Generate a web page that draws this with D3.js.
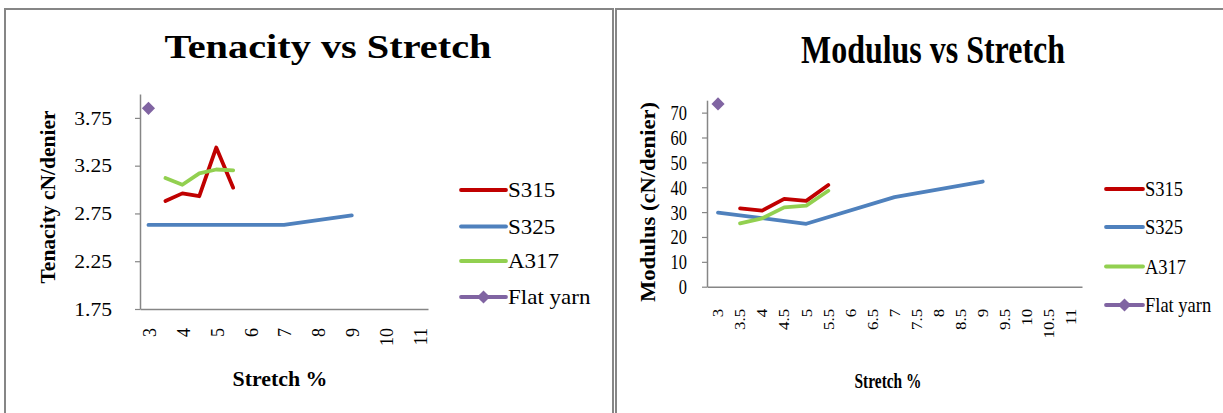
<!DOCTYPE html>
<html>
<head>
<meta charset="utf-8">
<script src="https://cdn.jsdelivr.net/npm/d3@7"></script>
<style>
  html, body { margin: 0; padding: 0; background: #fff; }
  svg text { font-family: "Liberation Serif", "Times New Roman", serif !important; fill: #000; }
</style>
</head>
<body>
<svg id="chart" width="1223" height="413"></svg>
<script>
// Series names and colours
const seriesNames = ["S315", "S325", "A317", "Flat yarn"];
const seriesColors = ["#C00000", "#4F81BD", "#92D050", "#8064A2"];

// Stretch % values at which each series was measured
const stretchS315 = [3.5, 4, 4.5, 5, 5.5];
const stretchS325 = [3, 5, 7, 9];
const stretchA317 = [3.5, 4, 4.5, 5, 5.5];
const stretchFlat = [3];

// Tenacity (cN/denier)
const tenacityS315 = [2.88, 2.96, 2.93, 3.44, 3.02];
const tenacityS325 = [2.63, 2.63, 2.63, 2.73];
const tenacityA317 = [3.12, 3.05, 3.17, 3.21, 3.20];
const tenacityFlat = [3.85];

// Modulus (cN/denier)
const modulusS315 = [31.5, 30.6, 35.3, 34.5, 40.9];
const modulusS325 = [29.8, 25.3, 36.0, 42.3];
const modulusA317 = [25.5, 27.5, 31.9, 32.6, 38.6];
const modulusFlat = [73.5];

// Axis ticks
const tenacityTicks = [1.75, 2.25, 2.75, 3.25, 3.75];
const modulusTicks = [0, 10, 20, 30, 40, 50, 60, 70];
const tenacityStretchTicks = [3, 4, 5, 6, 7, 8, 9, 10, 11];
const modulusStretchTicks = [3, 3.5, 4, 4.5, 5, 5.5, 6, 6.5, 7, 7.5, 8, 8.5, 9, 9.5, 10, 10.5, 11];

const svg = d3.select("#chart");
const AXIS = "#868686";

// Outer frames of the two panels
svg.append("rect").attr("x", 5).attr("y", 9).attr("width", 608).attr("height", 430)
  .attr("fill", "none").attr("stroke", AXIS).attr("stroke-width", 2);
svg.append("rect").attr("x", 616).attr("y", 9).attr("width", 640).attr("height", 430)
  .attr("fill", "none").attr("stroke", AXIS).attr("stroke-width", 2);

function drawPanel(cfg) {
  const g = svg.append("g");
  const x = d3.scaleLinear().domain([2.75, 11.25]).range(cfg.xRange);
  const y = d3.scaleLinear().domain(cfg.yDomain).range(cfg.yRange);
  const sx = cfg.sx;

  // Title
  g.append("text")
    .attr("x", cfg.title.x).attr("y", cfg.title.y)
    .attr("text-anchor", "middle")
    .attr("font-weight", "bold")
    .attr("font-size", cfg.title.size)
    .attr("textLength", cfg.title.len)
    .attr("lengthAdjust", "spacingAndGlyphs")
    .text(cfg.title.text);

  // Y axis
  const yAxis = g.append("g")
    .attr("transform", `translate(${cfg.xRange[0]},0)`)
    .call(d3.axisLeft(y).tickValues(cfg.yTicks).tickSize(5).tickSizeOuter(0)
      .tickFormat(cfg.yFormat));
  yAxis.select(".domain").attr("stroke", AXIS).attr("stroke-width", 1.5);
  yAxis.selectAll(".tick line").attr("stroke", AXIS).attr("stroke-width", 1.2);
  yAxis.selectAll(".tick text")
    .attr("x", 0).attr("dy", "0.35em")
    .attr("transform", `translate(${-cfg.yLabelGap},0) scale(${sx.tick},1)`)
    .attr("font-size", cfg.yTickSize);

  // X axis
  const xAxis = g.append("g")
    .attr("transform", `translate(0,${cfg.yRange[0]})`)
    .call(d3.axisBottom(x).tickValues(cfg.xTicks).tickSize(0).tickSizeOuter(0)
      .tickFormat(d => String(d)));
  xAxis.select(".domain").attr("stroke", AXIS).attr("stroke-width", 1.5);
  xAxis.selectAll(".tick text")
    .attr("x", 0).attr("y", 0).attr("dy", "0.35em")
    .attr("text-anchor", "end")
    .attr("transform", `translate(0,${cfg.xLabelGap}) scale(${sx.xtick},1) rotate(-90)`)
    .attr("font-size", cfg.xTickSize);

  // Axis titles
  g.append("text")
    .attr("transform", `translate(${cfg.yTitle.x},${cfg.yTitle.y}) rotate(-90)`)
    .attr("text-anchor", "middle")
    .attr("font-weight", "bold")
    .attr("font-size", cfg.yTitle.size)
    .attr("textLength", cfg.yTitle.len)
    .attr("lengthAdjust", "spacingAndGlyphs")
    .text(cfg.yTitle.text);
  g.append("text")
    .attr("x", cfg.xTitle.x).attr("y", cfg.xTitle.y)
    .attr("text-anchor", "middle")
    .attr("font-weight", "bold")
    .attr("font-size", cfg.xTitle.size)
    .attr("textLength", cfg.xTitle.len)
    .attr("lengthAdjust", "spacingAndGlyphs")
    .text(cfg.xTitle.text);

  // Series lines
  const line = d3.line().x(d => x(d[0])).y(d => y(d[1]));
  cfg.series.slice(0, 3).forEach((s, i) => {
    g.append("path")
      .datum(d3.zip(s.xs, s.ys))
      .attr("d", line)
      .attr("fill", "none")
      .attr("stroke", seriesColors[i])
      .attr("stroke-width", 3.8)
      .attr("stroke-linejoin", "round")
      .attr("stroke-linecap", "round");
  });

  // Flat yarn: single diamond marker
  const flat = cfg.series[3];
  const diamond = d3.symbol().type(d3.symbolDiamond2).size(110);
  g.selectAll(".flat")
    .data(d3.zip(flat.xs, flat.ys))
    .join("path")
    .attr("class", "flat")
    .attr("transform", d => `translate(${x(d[0])},${y(d[1])})`)
    .attr("d", diamond)
    .attr("fill", seriesColors[3]);

  // Legend
  const L = cfg.legend;
  seriesNames.forEach((name, i) => {
    const ly = L.ys[i];
    g.append("line")
      .attr("x1", L.x1).attr("x2", L.x2).attr("y1", ly).attr("y2", ly)
      .attr("stroke", seriesColors[i]).attr("stroke-width", 3.8)
      .attr("stroke-linecap", "round");
    if (i === 3) {
      g.append("path")
        .attr("transform", `translate(${(L.x1 + L.x2) / 2},${ly})`)
        .attr("d", diamond)
        .attr("fill", seriesColors[3]);
    }
    g.append("text")
      .attr("transform", `translate(${L.x2 + 2},${ly}) scale(${sx.legend},1)`)
      .attr("dy", "0.35em")
      .attr("font-size", L.size)
      .text(name);
  });
}

drawPanel({
  xRange: [140, 428],
  yDomain: [1.75, 4.0],
  yRange: [309, 94],
  yTicks: tenacityTicks,
  yFormat: d3.format(".2f"),
  xTicks: tenacityStretchTicks,
  yLabelGap: 28,
  xLabelGap: 19,
  yTickSize: 18,
  xTickSize: 18,
  sx: { tick: 1.2, xtick: 1.1, legend: 1.15 },
  title: { text: "Tenacity vs Stretch", x: 328, y: 58, size: 34, len: 327 },
  yTitle: { text: "Tenacity cN/denier", x: 55, y: 197, size: 20, len: 173 },
  xTitle: { text: "Stretch %", x: 280, y: 386, size: 20, len: 95 },
  series: [
    { xs: stretchS315, ys: tenacityS315 },
    { xs: stretchS325, ys: tenacityS325 },
    { xs: stretchA317, ys: tenacityA317 },
    { xs: stretchFlat, ys: tenacityFlat }
  ],
  legend: { x1: 461, x2: 506, ys: [190, 226.5, 261, 297], size: 20 }
});

drawPanel({
  xRange: [707, 1082],
  yDomain: [0, 75],
  yRange: [286.7, 100.2],
  yTicks: modulusTicks,
  yFormat: d3.format("d"),
  xTicks: modulusStretchTicks,
  yLabelGap: 20,
  xLabelGap: 22,
  yTickSize: 20,
  xTickSize: 17,
  sx: { tick: 0.82, xtick: 0.8, legend: 0.88 },
  title: { text: "Modulus vs Stretch", x: 933, y: 63, size: 41, len: 264 },
  yTitle: { text: "Modulus (cN/denier)", x: 655, y: 202, size: 22, len: 200 },
  xTitle: { text: "Stretch %", x: 888, y: 388, size: 21, len: 67 },
  series: [
    { xs: stretchS315, ys: modulusS315 },
    { xs: stretchS325, ys: modulusS325 },
    { xs: stretchA317, ys: modulusA317 },
    { xs: stretchFlat, ys: modulusFlat }
  ],
  legend: { x1: 1106, x2: 1143, ys: [189, 227, 266.5, 305], size: 21 }
});
</script>
</body>
</html>
